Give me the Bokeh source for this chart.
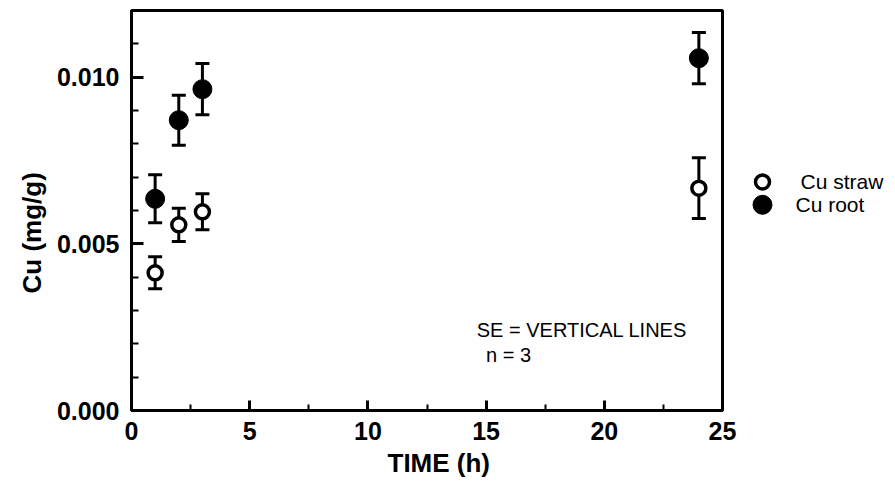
from bokeh.plotting import figure
from bokeh.layouts import row
from bokeh.models import (ColumnDataSource, Whisker, TeeHead, FixedTicker, Label, Range1d, Title)
from bokeh.core.properties import value
from bokeh.embed import file_html
from bokeh.resources import INLINE

# ---- data ----
time_h = [1, 2, 3, 24]
cu_straw = [0.00413, 0.00557, 0.00596, 0.00667]
cu_straw_se = [0.00048, 0.00050, 0.00054, 0.00091]
cu_root = [0.00635, 0.00871, 0.00964, 0.01057]
cu_root_se = [0.00072, 0.00075, 0.00077, 0.00077]

x_ticks = [0, 5, 10, 15, 20, 25]
x_minor = [2.5, 7.5, 12.5, 17.5, 22.5]
y_ticks = [0.0, 0.005, 0.010]
y_labels = {0.0: "0.000", 0.005: "0.005", 0.010: "0.010"}
y_minor = [0.001, 0.002, 0.003, 0.004, 0.006, 0.007, 0.008, 0.009, 0.011]
series_names = ["Cu straw", "Cu root"]

FONT = "Liberation Sans"

p = figure(width=740, height=490, output_backend="svg", toolbar_location=None,
           x_range=Range1d(0, 25), y_range=Range1d(0, 0.012),
           min_border_left=131, min_border_top=10, min_border_right=18, min_border_bottom=80)
p.grid.visible = False
p.outline_line_color = "black"
p.outline_line_width = 3
p.background_fill_color = "white"
p.border_fill_color = "white"

for ax in (p.xaxis[0], p.yaxis[0]):
    ax.axis_line_width = 3
    ax.axis_line_color = "black"
    ax.major_tick_line_width = 3
    ax.minor_tick_line_width = 2
    ax.major_tick_out = 0
    ax.minor_tick_out = 0
    ax.major_label_text_font = FONT
    ax.major_label_text_font_style = "bold"
    ax.major_label_text_font_size = "25px"
    ax.major_label_text_color = "black"

p.xaxis.ticker = FixedTicker(ticks=x_ticks, minor_ticks=x_minor)
p.xaxis.major_tick_in = 10
p.xaxis.minor_tick_in = 6
p.xaxis.major_label_standoff = 11

p.add_layout(Title(text="TIME  (h)", align="left", offset=256, standoff=6,
                   text_font=FONT, text_font_style="bold", text_font_size="26px",
                   text_color="black"), "below")

p.yaxis.ticker = FixedTicker(ticks=y_ticks, minor_ticks=y_minor)
p.yaxis.major_label_overrides = y_labels
p.yaxis.major_tick_in = 12
p.yaxis.minor_tick_in = 7
p.yaxis.major_label_standoff = 12

p.add_layout(Title(text="Cu  (mg/g)", align="left", offset=117, standoff=14,
                   text_font=FONT, text_font_style="bold", text_font_size="26px",
                   text_color="black"), "left")

src_s = ColumnDataSource(dict(x=time_h, y=cu_straw,
                              lo=[v - e for v, e in zip(cu_straw, cu_straw_se)],
                              hi=[v + e for v, e in zip(cu_straw, cu_straw_se)]))
src_r = ColumnDataSource(dict(x=time_h, y=cu_root,
                              lo=[v - e for v, e in zip(cu_root, cu_root_se)],
                              hi=[v + e for v, e in zip(cu_root, cu_root_se)]))

for src in (src_s, src_r):
    w = Whisker(source=src, base="x", lower="lo", upper="hi", line_width=3, line_color="black",
                upper_head=TeeHead(size=14, line_width=3, line_color="black"),
                lower_head=TeeHead(size=14, line_width=3, line_color="black"))
    p.add_layout(w)

straw_style = dict(marker="circle", size=14, fill_color="white", line_color="black", line_width=3.5)
root_style = dict(marker="circle", size=19, fill_color="black", line_color="black", line_width=1)

p.scatter("x", "y", source=src_s, **straw_style)
p.scatter("x", "y", source=src_r, **root_style)

p.add_layout(Label(x=23.5, y=0.0021, text="SE = VERTICAL LINES", text_align="right",
                   text_font=FONT, text_font_size="20px", text_color="black"))
p.add_layout(Label(x=15.0, y=0.00135, text="n = 3", text_align="left",
                   text_font=FONT, text_font_size="20px", text_color="black"))

# legend panel to the right of the frame (pixel-like coordinates)
QW, QH = 155, 490
q = figure(width=QW, height=QH, output_backend="svg", toolbar_location=None,
           x_range=Range1d(0, QW), y_range=Range1d(0, QH),
           x_axis_location=None, y_axis_location=None,
           min_border_left=0, min_border_right=0, min_border_top=0, min_border_bottom=0)
q.grid.visible = False
q.outline_line_color = None
q.background_fill_color = "white"
q.border_fill_color = "white"

key_x = 22
key_rows = [QH - 210, QH - 238]
q.scatter(x=[key_x], y=[key_rows[0]], **straw_style)
q.scatter(x=[key_x], y=[key_rows[1]], **root_style)
q.text(x=[key_x + 38, key_x + 33], y=key_rows, text=series_names,
       text_font=value(FONT), text_font_size="21px", text_color="black",
       text_baseline="middle", text_align="left")

layout = row(p, q, spacing=0)
open("out.html", "w").write(file_html(layout, INLINE))
